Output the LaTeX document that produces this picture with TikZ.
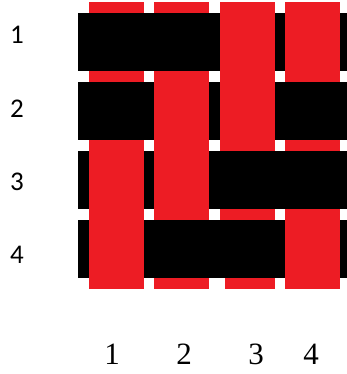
\documentclass[tikz,border=0pt]{standalone}
\usepackage{fontspec}
\setmainfont{Liberation Serif}
\setsansfont{Carlito}
\usepackage{xcolor}
\definecolor{warpred}{HTML}{ED1C24}

\begin{document}
\begin{tikzpicture}[
  x=1pt, y=-1pt,
  warp/.style={fill=warpred},
  weft/.style={fill=black},
  rowlbl/.style={font=\sffamily\fontsize{27}{27}\selectfont, inner sep=0pt},
  collbl/.style={font=\fontsize{31}{31}\selectfont, inner sep=0pt}
]
  \useasboundingbox (0,0) rectangle (347,374);

  % Warp threads (red, vertical)
  \foreach \x in {89,154,285} {
    \fill[warp] (\x,2) rectangle ++(55,287);
  }
  \fill[warp] (220,2) rectangle (275,278);
  \fill[warp] (225,278) rectangle (275,289);

  % Weft threads (black, horizontal)
  \foreach \y in {13,82,151,220} {
    \fill[weft] (78,\y) rectangle (347,\y+58);
  }

  % Warp over weft
  \foreach \x/\y in {220/13, 285/13, 154/82, 220/82, 89/151, 154/151, 89/220, 285/220} {
    \fill[warp] (\x,\y) rectangle ++(55,58);
  }

  % Labels
  \foreach \i/\y in {1/35, 2/109, 3/182, 4/255} {
    \node[rowlbl] (r\i) at (17,\y) {\i};
  }
  \foreach \i/\x in {1/112, 2/184, 3/256, 4/311} {
    \node[collbl] (c\i) at (\x,354) {\i};
  }
\end{tikzpicture}
\end{document}
